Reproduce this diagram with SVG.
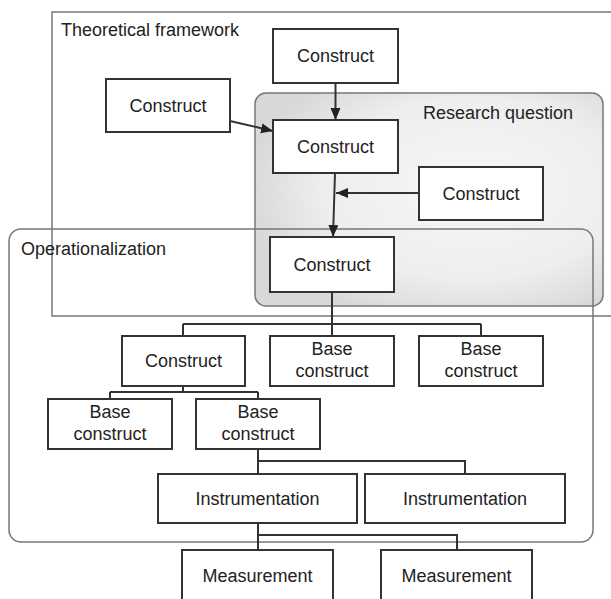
<svg xmlns="http://www.w3.org/2000/svg" width="611" height="599" viewBox="0 0 611 599">
<defs>
<radialGradient id="rqg" cx="62%" cy="45%" r="65%">
<stop offset="0" stop-color="#f7f7f7"/>
<stop offset="0.65" stop-color="#eeeeee"/>
<stop offset="1" stop-color="#d8d8d8"/>
</radialGradient>
<marker id="ah" markerUnits="userSpaceOnUse" markerWidth="13" markerHeight="11" refX="12" refY="5" orient="auto">
<path d="M0,0 L12,5 L0,10 z" fill="#222"/>
</marker>
<style>
text{font-family:"Liberation Sans",Arial,sans-serif;font-size:18px;fill:#222}
.node rect{fill:#fff;stroke:#333;stroke-width:2}
.node text{text-anchor:middle}
.frame{fill:none;stroke:#777;stroke-width:1.5}
.conn path{fill:none;stroke:#333;stroke-width:2}
</style>
</defs>
<rect width="611" height="599" fill="#fff"/>
<g id="theoretical-framework">
<rect class="frame" x="52" y="12" width="570" height="304"/>
<text x="61" y="36">Theoretical framework</text>
</g>
<g id="research-question">
<rect x="255" y="93" width="348" height="213" rx="11" fill="url(#rqg)" stroke="#777" stroke-width="1.5"/>
<text x="423" y="119">Research question</text>
</g>
<g id="operationalization">
<rect class="frame" x="9" y="229" width="584" height="313" rx="12"/>
<text x="21" y="255">Operationalization</text>
</g>
<g class="conn" id="connectors">
<path d="M335.5,83 V120" marker-end="url(#ah)"/>
<path d="M230,121 L273,131" marker-end="url(#ah)"/>
<path d="M419,193 H336" marker-end="url(#ah)"/>
<path d="M335,173 L333,237" marker-end="url(#ah)"/>
<path d="M332,292 V324 M183,324 H481 M183,324 V336 M332,324 V336 M481,324 V336"/>
<path d="M183,386 V392 M110,392 H258 M110,392 V399 M258,392 V399"/>
<path d="M258,449 V474 M258,461 H465 V474"/>
<path d="M258,523 V550 M258,535 H457 V550"/>
</g>
<g class="node" id="construct-top"><rect x="273" y="29" width="125" height="54"/><text x="335.5" y="62">Construct</text></g>
<g class="node" id="construct-left"><rect x="106" y="79" width="124" height="53"/><text x="168" y="112">Construct</text></g>
<g class="node" id="construct-middle"><rect x="273" y="120" width="125" height="53"/><text x="335.5" y="153">Construct</text></g>
<g class="node" id="construct-right"><rect x="419" y="167" width="124" height="53"/><text x="481" y="200">Construct</text></g>
<g class="node" id="construct-lower"><rect x="270" y="237" width="124" height="55"/><text x="332" y="271">Construct</text></g>
<g class="node" id="construct-row2"><rect x="122" y="336" width="123" height="50"/><text x="183.5" y="367">Construct</text></g>
<g class="node" id="base-mid"><rect x="270" y="336" width="124" height="50"/><text x="332" y="355">Base</text><text x="332" y="377">construct</text></g>
<g class="node" id="base-right"><rect x="419" y="336" width="124" height="50"/><text x="481" y="355">Base</text><text x="481" y="377">construct</text></g>
<g class="node" id="base-l"><rect x="48" y="399" width="124" height="50"/><text x="110" y="418">Base</text><text x="110" y="440">construct</text></g>
<g class="node" id="base-r"><rect x="196" y="399" width="124" height="50"/><text x="258" y="418">Base</text><text x="258" y="440">construct</text></g>
<g class="node" id="instr-l"><rect x="158" y="474" width="199" height="49"/><text x="257.5" y="505">Instrumentation</text></g>
<g class="node" id="instr-r"><rect x="365" y="474" width="200" height="49"/><text x="465" y="505">Instrumentation</text></g>
<g class="node" id="meas-l"><rect x="182" y="550" width="151" height="60"/><text x="257.5" y="582">Measurement</text></g>
<g class="node" id="meas-r"><rect x="381" y="550" width="151" height="60"/><text x="456.5" y="582">Measurement</text></g>
</svg>
